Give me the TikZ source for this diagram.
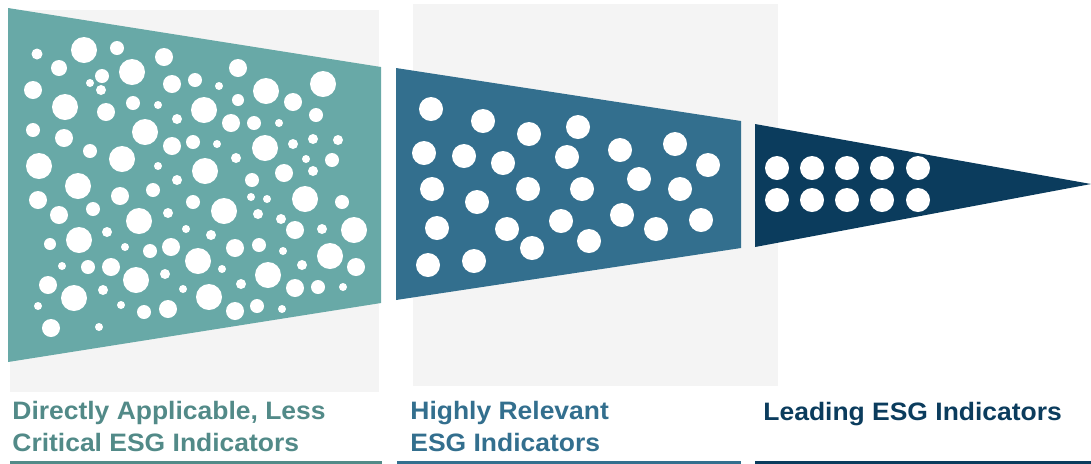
\documentclass[tikz,border=0pt]{standalone}
\usepackage{fontspec}
\setmainfont{Liberation Sans}[FakeStretch=1.05]
\definecolor{tealband}{HTML}{68A9A7}
\definecolor{tealtext}{HTML}{528A88}
\definecolor{blueband}{HTML}{336F8E}
\definecolor{navyband}{HTML}{0B3C5D}
\definecolor{panelgrey}{HTML}{F4F4F4}
\begin{document}
\begin{tikzpicture}[x=0.5pt, y=-0.5pt,
    hole/.style={fill=white},
    label/.style={anchor=base west, inner sep=0pt, align=left, font=\fontsize{12.6}{16}\selectfont\bfseries},
    rule/.style={line width=1.5pt}]
  \useasboundingbox (0,0) rectangle (1091,463);
  % grey panels
  \fill[panelgrey] (10,10) rectangle (379,392);
  \fill[panelgrey] (413,4) rectangle (778,386);
  % funnel bands
  \fill[tealband] (8,8) -- (381,67) -- (381,303) -- (8,362) -- cycle;
  \fill[blueband] (396,68) -- (741,121) -- (741,248) -- (396,300) -- cycle;
  \fill[navyband] (755,124) -- (1091,184) -- (755,247) -- cycle;
  % holes, first band
  \foreach \x/\y/\r in {37/54/5.5, 84/50/13, 117/48/7, 59/68/8, 164/57/9, 132/72/13, 102/76/7, 90/83/4,
      101/90/5, 33/90/9, 172/84/9, 195/80/7, 219/86/4, 238/68/9, 266/91/13, 323/84/13, 293/102/9,
      238/100/6, 65/107/13, 106/112/9, 133/103/7, 158/105/4, 204/110/13, 177/119/5, 231/123/9,
      254/123/7, 279/123/4, 316/115/7, 33/130/7, 64/138/9, 145/132/13, 90/151/7, 172/146/9,
      193/142/7, 217/144/4, 265/148/13, 293/144/5, 313/139/5, 338/140/5, 39/166/13, 122/159/13,
      158/166/4, 205/171/13, 236/158/5, 306/159/4, 332/160/7, 284/173/9, 313/171/5, 78/186/13,
      177/180/5, 252/180/7, 38/200/9, 120/196/9, 153/190/7, 193/202/7, 251/197/4, 267/199/4,
      305/199/13, 342/202/7, 59/215/9, 93/209/7, 139/221/13, 168/213/5, 224/211/13, 258/214/5,
      281/219/5, 50/244/6, 79/240/13, 107/232/5, 186/229/4, 211/235/5, 295/230/9, 322/229/5,
      354/230/13, 125/247/4, 150/251/7, 171/247/9, 198/261/13, 235/248/9, 259/245/7, 283/251/4,
      330/256/13, 62/266/4, 88/267/7, 111/267/9, 356/267/9, 48/285/9, 136/280/13, 165/274/5,
      222/269/4, 268/275/13, 302/265/5, 74/298/13, 103/290/5, 183/289/4, 209/297/13, 241/284/5,
      295/288/9, 318/287/7, 343/287/4, 38/306/4, 121/305/4, 144/312/7, 168/309/9, 235/311/9,
      257/306/7, 282/309/4, 51/328/9, 99/327/4}
    \fill[hole] (\x,\y) circle[radius=\r*0.5pt];
  % holes, second band
  \foreach \x/\y in {431/109, 483/121, 529/134, 578/127, 424/153, 464/156, 503/163, 567/157,
      620/150, 675/144, 708/165, 432/189, 477/202, 528/189, 582/189, 639/179, 680/189, 437/228,
      507/229, 561/221, 622/215, 656/229, 701/220, 532/248, 589/241, 428/265, 474/261}
    \fill[hole] (\x,\y) circle[radius=6pt];
  % holes, third band
  \foreach \x in {777, 812, 847, 882, 918}
    \foreach \y in {168, 200}
      \fill[hole] (\x,\y) circle[radius=6pt];
  % labels
  \node[label, text=tealtext] (lesscrit) at (12,451) {Directly Applicable, Less\\Critical ESG Indicators};
  \node[label, text=blueband] (relevant) at (410,451) {Highly Relevant\\ESG Indicators};
  \node[label, text=navyband] (leading) at (763,420) {Leading ESG Indicators};
  % underlines
  \draw[rule, tealtext] (10,462) -- (382,462);
  \draw[rule, blueband] (397,462) -- (741,462);
  \draw[rule, navyband] (755,462) -- (1091,462);
\end{tikzpicture}
\end{document}
